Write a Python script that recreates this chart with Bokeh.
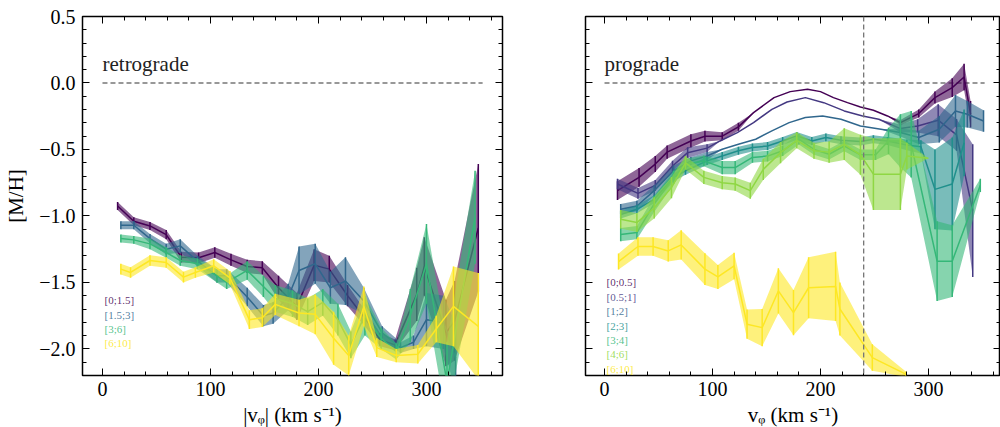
import numpy as np
from bokeh.plotting import figure
from bokeh.models import Range1d, LinearAxis, FixedTicker, CustomJSTickFormatter, Span
from bokeh.layouts import row
from bokeh.embed import file_html
from bokeh.resources import INLINE
from bokeh.core.properties import value

FONT = "Liberation Serif"

# ---------------- data: left panel (retrograde) ----------------
left_labels = ["[0;1.5]", "[1.5;3]", "[3;6]", "[6;10]"]
left_colors = ["#440154", "#30678D", "#35B778", "#FDE724"]

l0_x = [14, 29, 44, 59, 73, 89, 104, 119, 134, 148, 163, 180, 196, 210, 227, 243, 257, 271, 291, 298, 318, 326, 348]
l0_y = [-0.925, -1.04, -1.075, -1.14, -1.31, -1.315, -1.275, -1.33, -1.38, -1.39, -1.54, -1.68, -1.37, -1.40, -1.60, -1.77, -1.93, -1.97, -1.59, -1.38, -1.88, -1.79, -1.09]
l0_e = [0.03, 0.03, 0.03, 0.035, 0.04, 0.04, 0.04, 0.045, 0.05, 0.05, 0.09, 0.1, 0.12, 0.1, 0.08, 0.06, 0.05, 0.04, 0.2, 0.22, 0.25, 0.3, 0.48]

l1_x = [17, 29, 44, 59, 72, 88, 106, 115, 134, 149, 158, 172, 182, 197, 211, 225, 242, 259, 276, 288, 300, 316, 327]
l1_y = [-1.07, -1.07, -1.17, -1.25, -1.225, -1.34, -1.45, -1.45, -1.61, -1.75, -1.73, -1.61, -1.41, -1.36, -1.54, -1.49, -1.64, -1.88, -1.99, -1.95, -1.78, -1.80, -2.07]
l1_e = [0.03, 0.03, 0.035, 0.04, 0.05, 0.04, 0.05, 0.05, 0.07, 0.08, 0.08, 0.1, 0.18, 0.15, 0.12, 0.18, 0.1, 0.05, 0.04, 0.05, 0.2, 0.2, 0.25]

l2_x = [17, 29, 44, 59, 72, 88, 106, 115, 134, 149, 160, 176, 190, 204, 218, 230, 243, 258, 272, 285, 300, 319, 345]
l2_y = [-1.17, -1.18, -1.21, -1.275, -1.335, -1.36, -1.45, -1.50, -1.41, -1.53, -1.62, -1.66, -1.72, -1.65, -1.78, -1.97, -1.75, -1.92, -2.02, -1.75, -1.36, -2.25, -1.01]
l2_e = [0.03, 0.03, 0.04, 0.04, 0.04, 0.04, 0.05, 0.05, 0.07, 0.08, 0.1, 0.1, 0.1, 0.1, 0.12, 0.1, 0.15, 0.08, 0.06, 0.2, 0.3, 0.3, 0.35]

l3_x = [17, 26, 44, 59, 75, 86, 103, 118, 136, 148, 160, 182, 197, 214, 228, 242, 254, 272, 292, 309, 325, 348]
l3_y = [-1.40, -1.425, -1.335, -1.35, -1.46, -1.425, -1.375, -1.465, -1.78, -1.765, -1.665, -1.73, -1.74, -1.92, -2.05, -1.68, -1.99, -2.05, -2.04, -1.85, -1.68, -1.83]
l3_e = [0.04, 0.04, 0.04, 0.04, 0.04, 0.04, 0.05, 0.05, 0.07, 0.07, 0.08, 0.1, 0.15, 0.2, 0.15, 0.15, 0.07, 0.05, 0.07, 0.1, 0.3, 0.4]

# ---------------- data: right panel (prograde) ----------------
right_labels = ["[0;0.5]", "[0.5;1]", "[1;2]", "[2;3]", "[3;4]", "[4;6]", "[6;10]"]
right_colors = ["#440154", "#443982", "#30678D", "#20908C", "#35B778", "#8FD744", "#FDE724"]

r0_x = [12, 32, 47, 58, 80, 93, 109, 124, 138, 157, 172, 188, 200, 212, 225, 237, 249, 262, 274, 291, 306, 322, 333, 339]
r0_y = [-0.81, -0.71, -0.61, -0.52, -0.436, -0.40, -0.40, -0.33, -0.223, -0.11, -0.065, -0.048, -0.065, -0.11, -0.148, -0.18, -0.205, -0.248, -0.298, -0.23, -0.11, -0.035, 0.045, -0.235]
r0_e = [0.07, 0.07, 0.06, 0.05, 0.05, 0.04, 0.03, 0.03, 0, 0, 0, 0, 0, 0, 0, 0, 0, 0, 0.02, 0.03, 0.045, 0.07, 0.1, 0.1]

r1_x = [12, 31, 47, 63, 77, 95, 107, 123, 138, 155, 169, 186, 203, 222, 239, 254, 274, 290, 309, 326, 341]
r1_y = [-0.76, -0.83, -0.77, -0.624, -0.524, -0.49, -0.436, -0.373, -0.298, -0.198, -0.143, -0.11, -0.148, -0.21, -0.248, -0.273, -0.343, -0.323, -0.28, -0.39, -0.96]
r1_e = [0.04, 0.04, 0.04, 0.04, 0.04, 0.03, 0, 0, 0, 0, 0, 0, 0, 0, 0, 0, 0.03, 0.05, 0.12, 0.12, 0.5]

r2_x = [15, 30, 46, 64, 80, 95, 109, 124, 140, 155, 171, 186, 202, 219, 237, 256, 274, 291, 310, 325, 336, 351]
r2_y = [-0.95, -0.925, -0.81, -0.66, -0.586, -0.549, -0.498, -0.461, -0.423, -0.36, -0.298, -0.26, -0.248, -0.273, -0.323, -0.348, -0.373, -0.41, -0.348, -0.21, -0.235, -0.286]
r2_e = [0.04, 0.04, 0.04, 0.04, 0.03, 0.03, 0, 0, 0, 0, 0, 0, 0, 0, 0, 0, 0.03, 0.05, 0.1, 0.12, 0.1, 0.08]

r3_x = [15, 30, 46, 64, 75, 95, 109, 124, 137, 151, 165, 178, 192, 205, 219, 237, 249, 262, 280, 293, 306, 322, 333]
r3_y = [-0.99, -0.95, -0.875, -0.71, -0.66, -0.586, -0.549, -0.51, -0.486, -0.474, -0.436, -0.398, -0.436, -0.41, -0.43, -0.44, -0.424, -0.436, -0.466, -0.48, -0.8, -0.76, -0.45]
r3_e = [0.03, 0.03, 0.03, 0.03, 0.03, 0.03, 0.03, 0.03, 0.03, 0.03, 0.03, 0.03, 0.03, 0.03, 0.03, 0.03, 0.03, 0.03, 0.04, 0.05, 0.3, 0.35, 0.25]

r4_x = [15, 30, 46, 64, 75, 92, 109, 121, 137, 151, 165, 180, 194, 208, 222, 237, 251, 263, 274, 284, 308, 322, 348]
r4_y = [-1.14, -1.125, -0.91, -0.71, -0.61, -0.586, -0.636, -0.636, -0.56, -0.55, -0.51, -0.423, -0.5, -0.536, -0.474, -0.54, -0.54, -0.436, -0.436, -0.46, -1.34, -1.34, -0.77]
r4_e = [0.05, 0.05, 0.06, 0.05, 0.04, 0.04, 0.05, 0.05, 0.04, 0.04, 0.04, 0.04, 0.04, 0.04, 0.04, 0.04, 0.04, 0.1, 0.2, 0.25, 0.3, 0.27, 0.05]

r5_x = [15, 30, 46, 62, 75, 92, 109, 121, 135, 147, 163, 178, 194, 208, 222, 237, 249, 274, 280, 300]
r5_y = [-1.025, -1.05, -0.94, -0.787, -0.6, -0.71, -0.75, -0.76, -0.81, -0.65, -0.524, -0.431, -0.51, -0.52, -0.46, -0.54, -0.686, -0.686, -0.55, -0.566]
r5_e = [0.07, 0.07, 0.08, 0.08, 0.05, 0.05, 0.05, 0.05, 0.06, 0.08, 0.08, 0.06, 0.06, 0.08, 0.12, 0.15, 0.27, 0.27, 0.1, 0.0]

r6_x = [13, 31, 45, 59, 71, 93, 105, 120, 132, 146, 161, 175, 189, 214, 218, 248, 279]
r6_y = [-1.343, -1.23, -1.23, -1.263, -1.218, -1.40, -1.459, -1.376, -1.814, -1.84, -1.564, -1.727, -1.54, -1.53, -1.70, -2.065, -2.19]
r6_e = [0.06, 0.07, 0.07, 0.08, 0.11, 0.12, 0.09, 0.1, 0.11, 0.14, 0.17, 0.17, 0.23, 0.26, 0.2, 0.1, 0.02]

x_major = [0, 100, 200, 300]
y_major = [-2.0, -1.5, -1.0, -0.5, 0.0, 0.5]
zero_line_x = [0, 352]
solar_vphi = 240

left_series = [(l0_x, l0_y, l0_e), (l1_x, l1_y, l1_e), (l2_x, l2_y, l2_e), (l3_x, l3_y, l3_e)]
right_series = [(r0_x, r0_y, r0_e), (r1_x, r1_y, r1_e), (r2_x, r2_y, r2_e), (r3_x, r3_y, r3_e),
                (r4_x, r4_y, r4_e), (r5_x, r5_y, r5_e), (r6_x, r6_y, r6_e)]


def add_axes(p, show_ylabels, xlabel):
    xt = FixedTicker(ticks=x_major, minor_ticks=list(range(-20, 380, 20)))
    yt = FixedTicker(ticks=y_major, minor_ticks=[round(-2.2 + 0.1 * i, 1) for i in range(28)])
    common = dict(axis_line_color=None, major_tick_in=7, major_tick_out=0,
                  minor_tick_in=4, minor_tick_out=0,
                  major_tick_line_color="black", minor_tick_line_color="black",
                  major_tick_line_width=1, minor_tick_line_width=1,
                  major_label_text_font=FONT, major_label_text_font_size="20px",
                  major_label_text_color="black",
                  axis_label_text_font=FONT, axis_label_text_font_size="21px",
                  axis_label_text_font_style="normal", axis_label_text_color="black")
    blank = CustomJSTickFormatter(code="return '';")
    hidden = dict(major_label_text_font_size="8px", major_label_standoff=0, axis_label=None,
                  formatter=blank)

    below = LinearAxis(ticker=xt, axis_label=xlabel, major_label_standoff=6, axis_label_standoff=4, **common)
    p.add_layout(below, "below")
    above = LinearAxis(ticker=xt, **{**common, **hidden})
    p.add_layout(above, "above")

    yfmt = CustomJSTickFormatter(code="return tick.toFixed(1).replace('-', '\u2212');")
    if show_ylabels:
        left = LinearAxis(ticker=yt, formatter=yfmt, axis_label="[M/H]",
                          major_label_standoff=7, axis_label_standoff=8, **common)
    else:
        left = LinearAxis(ticker=yt, **{**common, **hidden})
    p.add_layout(left, "left")
    right = LinearAxis(ticker=yt, **{**common, **hidden})
    p.add_layout(right, "right")


def make_panel(series, colors, labels, xr, fw, mbl, mbr, show_y, xlabel, tag, label_y0):
    p = figure(frame_width=fw, frame_height=359, x_range=Range1d(*xr), y_range=Range1d(-2.2, 0.5),
               x_axis_type=None, y_axis_type=None, toolbar_location=None, output_backend="svg",
               min_border_left=mbl, min_border_right=mbr, min_border_top=16, min_border_bottom=52,
               outline_line_color="black", outline_line_width=1.5,
               background_fill_color="white", border_fill_color="white")
    p.xgrid.visible = False
    p.ygrid.visible = False
    add_axes(p, show_y, xlabel)

    p.line(zero_line_x, [0, 0], line_color="#777777", line_width=1.3, line_dash="5 3")

    for (x, y, e), c in zip(series, colors):
        x = np.array(x, float)
        y = np.array(y, float)
        e = np.array(e, float)
        p.varea(x=x, y1=y - e, y2=y + e, fill_color=c, fill_alpha=0.6)
        p.line(x, y, line_color=c, line_width=1.5)
        p.segment(x0=x, y0=y - e, x1=x, y1=y + e, line_color=c, line_width=1.5)

    p.text(x=[0], y=[0.14], text=[tag], text_font=value(FONT), text_font_size="21px",
           text_color="#222222", text_baseline="alphabetic", text_align="left")

    dy = 14.4 / 133.0
    ly = [label_y0 - i * dy for i in range(len(labels))]
    p.text(x=[1.9] * len(labels), y=ly, text=labels, text_color=colors, text_alpha=0.85,
           text_font=value(FONT), text_font_size="11px", text_baseline="middle", text_align="left")
    return p


pl = make_panel(left_series, left_colors, left_labels, (-18.5, 370.4), 420, 82, 10, True,
                "|v\u1D69| (km s\u207B\u00B9)", "retrograde", -1.634)
pr = make_panel(right_series, right_colors, right_labels, (-17.6, 366.7), 415, 73, 0, False,
                "v\u1D69 (km s\u207B\u00B9)", "prograde", -1.50)
pr.add_layout(Span(location=solar_vphi, dimension="height", line_color="#777777",
                   line_width=1.3, line_dash="5 3"))

layout = row(pl, pr)
open("out.html", "w").write(file_html(layout, INLINE))
